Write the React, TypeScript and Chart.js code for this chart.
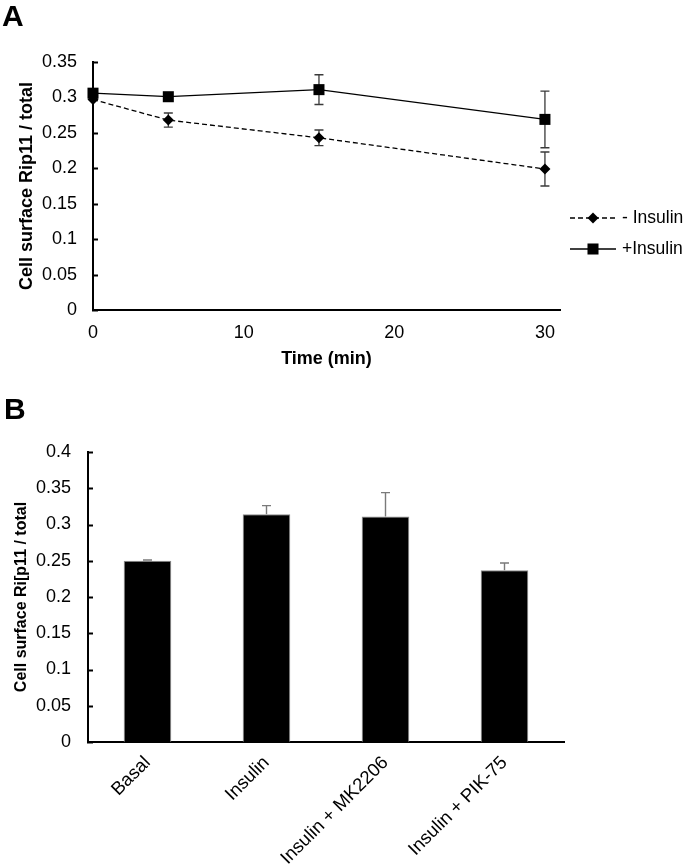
import React, { useEffect, useRef } from "react";
import { Chart, registerables } from "chart.js";

Chart.register(...registerables);

const FONT = "'Liberation Sans', Arial, Helvetica, sans-serif";

// ---------- Panel A data ----------
const timePoints = [0, 5, 15, 30];
const minusInsulin = [0.297, 0.268, 0.243, 0.199];
const minusInsulinErr = [0, 0.01, 0.011, 0.024];
const plusInsulin = [0.306, 0.301, 0.311, 0.269];
const plusInsulinErr = [0, 0, 0.021, 0.04];
const seriesLabels = ["- Insulin", "+Insulin"];
const timeTicks = [0, 10, 20, 30];
const ratioTicksA = [0, 0.05, 0.1, 0.15, 0.2, 0.25, 0.3, 0.35];

// ---------- Panel B data ----------
const treatments = ["Basal", "Insulin", "Insulin + MK2206", "Insulin + PIK-75"];
const surfaceRatio = [0.25, 0.314, 0.311, 0.237];
const surfaceRatioErr = [0.001, 0.012, 0.033, 0.01];
const ratioTicksB = [0, 0.05, 0.1, 0.15, 0.2, 0.25, 0.3, 0.35, 0.4];

const fmt = (v: number) => String(Number(v.toFixed(2)));

const errorBarPlugin = {
  id: "errorBars",
  beforeDatasetsDraw(chart: any, _args: any, opts: any) {
    const ctx = chart.ctx;
    ctx.save();
    ctx.strokeStyle = opts.color || "#404040";
    ctx.lineWidth = opts.width || 1.3;
    ctx.setLineDash([]);
    (opts.errors || []).forEach((errs: number[], di: number) => {
      const meta = chart.getDatasetMeta(di);
      const ys = chart.scales[meta.yAxisID];
      const ds = chart.data.datasets[di];
      meta.data.forEach((el: any, j: number) => {
        const e = errs[j];
        if (!e) return;
        const raw = ds.data[j];
        const v = typeof raw === "number" ? raw : raw.y;
        const yTop = ys.getPixelForValue(v + e);
        const yBot = opts.upOnly ? ys.getPixelForValue(v) : ys.getPixelForValue(v - e);
        const x = el.x;
        const h = opts.cap || 4.5;
        ctx.beginPath();
        ctx.moveTo(x, yTop);
        ctx.lineTo(x, yBot);
        ctx.moveTo(x - h, yTop);
        ctx.lineTo(x + h, yTop);
        if (!opts.upOnly) {
          ctx.moveTo(x - h, yBot);
          ctx.lineTo(x + h, yBot);
        }
        ctx.stroke();
      });
    });
    ctx.restore();
  },
};

const innerTicksPlugin = {
  id: "innerTicks",
  afterDraw(chart: any, _args: any, opts: any) {
    const ys = chart.scales.y;
    const ctx = chart.ctx;
    const left = chart.chartArea.left;
    ctx.save();
    ctx.strokeStyle = "#000";
    ctx.lineWidth = opts.width || 2;
    ys.ticks.forEach((t: any) => {
      const py = Math.round(ys.getPixelForValue(t.value)) + 0.5;
      ctx.beginPath();
      ctx.moveTo(left - 1, py);
      ctx.lineTo(left + (opts.length || 5), py);
      ctx.stroke();
    });
    ctx.restore();
  },
};

const lineLegendPlugin = {
  id: "lineLegend",
  afterDraw(chart: any, _args: any, opts: any) {
    const ctx = chart.ctx;
    const area = chart.chartArea;
    const x0 = area.right + opts.offsetX;
    chart.data.datasets.forEach((ds: any, i: number) => {
      const y = area.top + opts.top + i * opts.rowGap;
      ctx.save();
      ctx.strokeStyle = ds.borderColor;
      ctx.lineWidth = ds.borderWidth;
      ctx.setLineDash(ds.borderDash || []);
      ctx.beginPath();
      ctx.moveTo(x0, y);
      ctx.lineTo(x0 + opts.lineLen, y);
      ctx.stroke();
      ctx.setLineDash([]);
      ctx.fillStyle = "#000";
      const cx = x0 + opts.lineLen / 2;
      const r = ds.pointRadius;
      ctx.beginPath();
      if (ds.pointStyle === "rectRot") {
        ctx.moveTo(cx, y - r);
        ctx.lineTo(cx + r, y);
        ctx.lineTo(cx, y + r);
        ctx.lineTo(cx - r, y);
        ctx.closePath();
      } else {
        const s = r * Math.SQRT1_2;
        ctx.rect(cx - s, y - s, 2 * s, 2 * s);
      }
      ctx.fill();
      ctx.font = `17.5px ${FONT}`;
      ctx.textBaseline = "middle";
      ctx.textAlign = "left";
      ctx.fillText(ds.label, x0 + opts.lineLen + opts.textGap, y);
      ctx.restore();
    });
  },
};

function LineChartA() {
  const ref = useRef<HTMLCanvasElement>(null);
  useEffect(() => {
    const chart = new Chart(ref.current as HTMLCanvasElement, {
      type: "line",
      data: {
        datasets: [
          {
            label: seriesLabels[0],
            data: timePoints.map((t, i) => ({ x: t, y: minusInsulin[i] })),
            borderColor: "#000",
            borderWidth: 1.3,
            borderDash: [5, 3],
            pointStyle: "rectRot",
            pointRadius: 5.5,
            pointBackgroundColor: "#000",
            pointBorderWidth: 0,
            clip: false,
          } as any,
          {
            label: seriesLabels[1],
            data: timePoints.map((t, i) => ({ x: t, y: plusInsulin[i] })),
            borderColor: "#000",
            borderWidth: 1.3,
            pointStyle: "rect",
            pointRadius: 7.8,
            pointBackgroundColor: "#000",
            pointBorderWidth: 0,
            clip: false,
          } as any,
        ],
      },
      options: {
        animation: false,
        responsive: false,
        layout: { padding: { top: 62, right: 125, bottom: 10, left: 0 } },
        plugins: {
          legend: { display: false },
          tooltip: { enabled: false },
          errorBars: { errors: [minusInsulinErr, plusInsulinErr], color: "#3a3a3a", width: 1.3, cap: 4.5 },
          innerTicks: { length: 5, width: 2 },
          lineLegend: { offsetX: 10, top: 156, rowGap: 31, lineLen: 46, textGap: 6 },
        } as any,
        scales: {
          x: {
            type: "linear",
            min: 0,
            max: 31,
            afterBuildTicks: (s: any) => {
              s.ticks = timeTicks.map((v) => ({ value: v }));
            },
            grid: { display: false, drawTicks: false },
            border: { display: true, color: "#000", width: 2 },
            ticks: { font: { family: FONT, size: 18 }, color: "#000", padding: 12, maxRotation: 0, callback: (v: any) => String(v) },
            title: { display: true, text: "Time (min)", font: { family: FONT, size: 18, weight: "bold" }, color: "#000", padding: 0 },
            afterFit: (s: any) => {
              s.height = 60;
            },
          },
          y: {
            min: 0,
            max: 0.35,
            afterBuildTicks: (s: any) => {
              s.ticks = ratioTicksA.map((v) => ({ value: v }));
            },
            grid: { display: false, drawTicks: false },
            border: { display: true, color: "#000", width: 2 },
            ticks: { font: { family: FONT, size: 18 }, color: "#000", padding: 16, callback: (v: any) => fmt(Number(v)) },
            title: {
              display: true,
              text: "Cell surface Rip11 / total",
              font: { family: FONT, size: 18, weight: "bold" },
              color: "#000",
              padding: { top: 16, bottom: 0 },
            },
            afterFit: (s: any) => {
              s.width = 93;
            },
          },
        } as any,
      },
      plugins: [errorBarPlugin, innerTicksPlugin, lineLegendPlugin],
    });
    return () => chart.destroy();
  }, []);
  return <canvas ref={ref} width={685} height={380} style={{ position: "absolute", left: 0, top: 0, width: 685, height: 380 }} />;
}

function BarChartB() {
  const ref = useRef<HTMLCanvasElement>(null);
  useEffect(() => {
    const chart = new Chart(ref.current as HTMLCanvasElement, {
      type: "bar",
      data: {
        labels: treatments,
        datasets: [
          {
            data: surfaceRatio,
            backgroundColor: "#000",
            borderColor: "#8a8a8a",
            borderWidth: 1,
            categoryPercentage: 1,
            barPercentage: 0.4,
          } as any,
        ],
      },
      options: {
        animation: false,
        responsive: false,
        layout: { padding: { top: 72, right: 121, bottom: 0, left: 0 } },
        plugins: {
          legend: { display: false },
          tooltip: { enabled: false },
          errorBars: { errors: [surfaceRatioErr], color: "#7a7a7a", width: 1.4, cap: 4.5, upOnly: true },
          innerTicks: { length: 5, width: 2 },
        } as any,
        scales: {
          x: {
            grid: { display: false, drawTicks: false },
            border: { display: true, color: "#000", width: 2 },
            ticks: {
              font: { family: FONT, size: 18.5 },
              color: "#000",
              padding: 10,
              minRotation: 45,
              maxRotation: 45,
              autoSkip: false,
            },
            afterFit: (s: any) => {
              s.height = 123;
            },
          },
          y: {
            min: 0,
            max: 0.4,
            afterBuildTicks: (s: any) => {
              s.ticks = ratioTicksB.map((v) => ({ value: v }));
            },
            grid: { display: false, drawTicks: false },
            border: { display: true, color: "#000", width: 2 },
            ticks: { font: { family: FONT, size: 18 }, color: "#000", padding: 17, callback: (v: any) => fmt(Number(v)) },
            title: {
              display: true,
              text: "Cell surface Ri[p11 / total",
              font: { family: FONT, size: 16, weight: "bold" },
              color: "#000",
              padding: { top: 12, bottom: 0 },
            },
            afterFit: (s: any) => {
              s.width = 88;
            },
          },
        } as any,
      },
      plugins: [errorBarPlugin, innerTicksPlugin],
    });
    return () => chart.destroy();
  }, []);
  return <canvas ref={ref} width={685} height={485} style={{ position: "absolute", left: 0, top: 380, width: 685, height: 485 }} />;
}

const panelLabel: React.CSSProperties = {
  position: "absolute",
  fontFamily: FONT,
  fontWeight: "bold",
  fontSize: 30,
  lineHeight: "30px",
  color: "#000",
};

export default function App() {
  return (
    <div style={{ position: "absolute", left: 0, top: 0, width: 685, height: 865, background: "#fff", overflow: "hidden" }}>
      <LineChartA />
      <BarChartB />
      <div style={{ ...panelLabel, left: 2, top: 1 }}>A</div>
      <div style={{ ...panelLabel, left: 4, top: 394 }}>B</div>
    </div>
  );
}
